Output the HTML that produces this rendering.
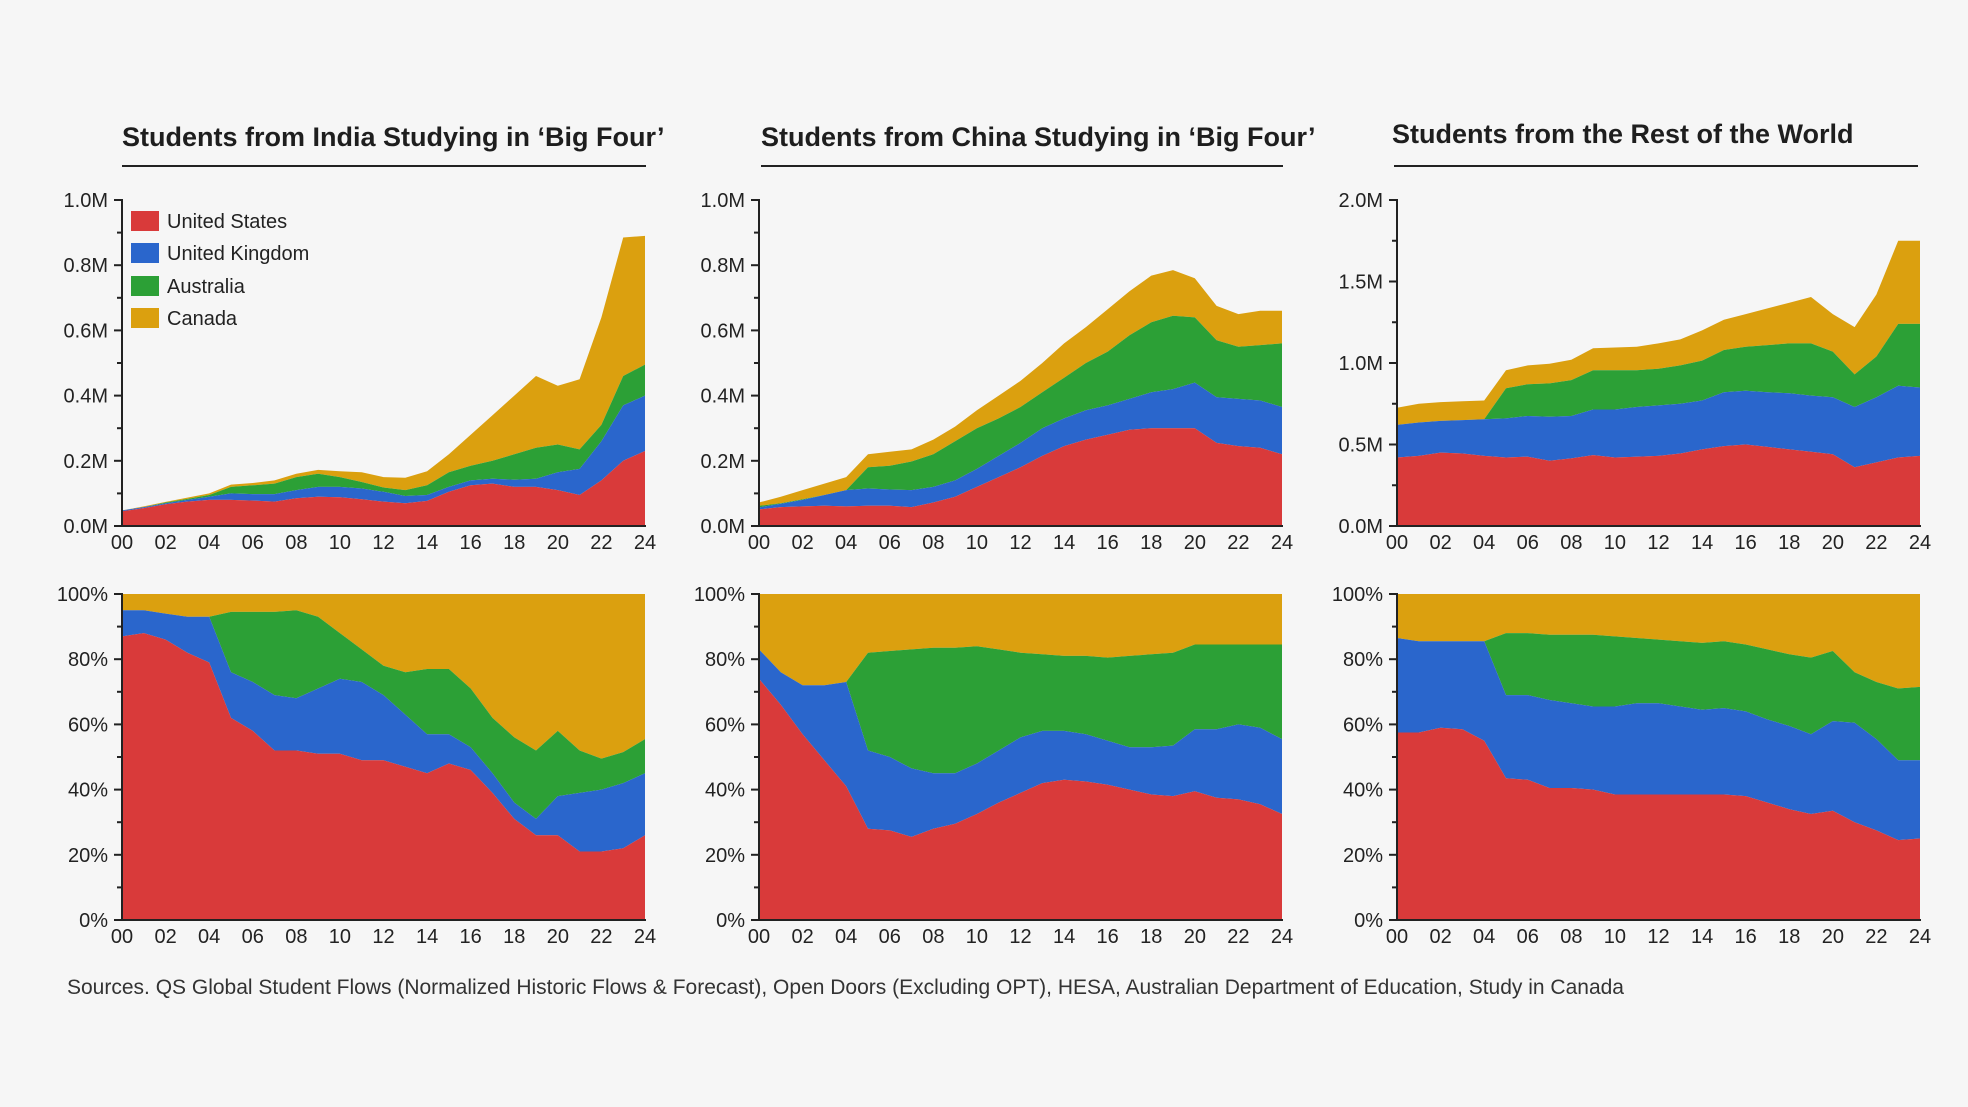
<!DOCTYPE html>
<html><head><meta charset="utf-8">
<style>
html,body{margin:0;padding:0;background:#f6f6f6;}
svg{display:block;font-family:"Liberation Sans",sans-serif;}
</style></head>
<body>
<svg id="chart" width="1968" height="1107" viewBox="0 0 1968 1107" xmlns="http://www.w3.org/2000/svg">
<rect width="1968" height="1107" fill="#f6f6f6"/>
<text x="122" y="146" font-size="27" font-weight="bold" fill="#1e1e1e">Students from India Studying in ‘Big Four’</text>
<line x1="122" y1="166" x2="646" y2="166" stroke="#222" stroke-width="2"/>
<text x="761" y="146" font-size="27" font-weight="bold" fill="#1e1e1e">Students from China Studying in ‘Big Four’</text>
<line x1="761" y1="166" x2="1283" y2="166" stroke="#222" stroke-width="2"/>
<text x="1392" y="143" font-size="27" font-weight="bold" fill="#1e1e1e">Students from the Rest of the World</text>
<line x1="1394" y1="166" x2="1918" y2="166" stroke="#222" stroke-width="2"/>
<text x="67" y="994" font-size="21" fill="#333">Sources. QS Global Student Flows (Normalized Historic Flows &amp; Forecast), Open Doors (Excluding OPT), HESA, Australian Department of Education, Study in Canada</text>
<g id="legend">
<rect x="131" y="211" width="28" height="20" fill="#d93a3a"/>
<text x="167" y="228" font-size="20" fill="#222">United States</text>
<rect x="131" y="243" width="28" height="20" fill="#2a66cc"/>
<text x="167" y="260" font-size="20" fill="#222">United Kingdom</text>
<rect x="131" y="276" width="28" height="20" fill="#2ca036"/>
<text x="167" y="293" font-size="20" fill="#222">Australia</text>
<rect x="131" y="308" width="28" height="20" fill="#dba00f"/>
<text x="167" y="325" font-size="20" fill="#222">Canada</text>
</g>
</svg>
<script>
// Years 2000..2024; values are stacked tops (US, US+UK, US+UK+AU, total)
const years = ["00","01","02","03","04","05","06","07","08","09","10","11","12","13","14","15","16","17","18","19","20","21","22","23","24"];
const xTickLabels = ["00","02","04","06","08","10","12","14","16","18","20","22","24"];
const colors = ["#d93a3a","#2a66cc","#2ca036","#dba00f"];
const countries = ["us","uk","australia","canada"];

// India absolute (millions)
const indiaUS   = [0.045,0.055,0.067,0.075,0.08,0.08,0.078,0.075,0.085,0.09,0.088,0.082,0.075,0.07,0.077,0.105,0.125,0.13,0.12,0.12,0.11,0.095,0.14,0.2,0.23];
const indiaUK   = [0.048,0.058,0.07,0.08,0.09,0.1,0.098,0.098,0.11,0.12,0.12,0.115,0.105,0.092,0.095,0.12,0.14,0.145,0.142,0.145,0.165,0.175,0.26,0.37,0.4];
const indiaAU   = [0.048,0.058,0.072,0.083,0.095,0.12,0.125,0.13,0.15,0.16,0.15,0.135,0.118,0.11,0.125,0.165,0.185,0.2,0.22,0.24,0.25,0.235,0.31,0.46,0.495];
const indiaCA   = [0.048,0.06,0.074,0.087,0.1,0.127,0.132,0.14,0.16,0.172,0.168,0.165,0.15,0.148,0.168,0.22,0.28,0.34,0.4,0.46,0.43,0.45,0.64,0.885,0.89];
// India shares (%)
const indiaShareUS = [87,88,86,82,79,62,58,52,52,51,51,49,49,47,45,48,46,39,31,26,26,21,21,22,26];
const indiaShareUK = [95,95,94,93,93,76,73,69,68,71,74,73,69,63,57,57,53,45,36,31,38,39,40,42,45];
const indiaShareAU = [95,95,94,93,93,94.5,94.5,94.5,95,93,88,83,78,76,77,77,71,62,56,52,58,52,49.5,51.5,55.5];

// China absolute
const chinaUS = [0.051,0.058,0.06,0.062,0.06,0.062,0.062,0.058,0.072,0.09,0.12,0.15,0.18,0.215,0.245,0.265,0.28,0.295,0.3,0.3,0.3,0.255,0.245,0.24,0.22];
const chinaUK = [0.057,0.068,0.08,0.095,0.11,0.115,0.112,0.11,0.12,0.14,0.175,0.215,0.255,0.3,0.33,0.355,0.37,0.39,0.41,0.42,0.44,0.395,0.39,0.385,0.365];
const chinaAU = [0.062,0.07,0.082,0.095,0.11,0.18,0.185,0.198,0.22,0.26,0.3,0.33,0.365,0.41,0.455,0.5,0.535,0.585,0.625,0.645,0.64,0.57,0.55,0.555,0.56];
const chinaCA = [0.072,0.09,0.11,0.13,0.15,0.22,0.228,0.235,0.265,0.305,0.355,0.4,0.445,0.5,0.56,0.61,0.665,0.72,0.768,0.785,0.76,0.675,0.65,0.66,0.66];
const chinaShareUS = [74,66,57,49,41,28,27.5,25.5,28,29.5,32.5,36,39,42,43,42.5,41.5,40,38.5,38,39.5,37.5,37,35.5,32.5];
const chinaShareUK = [83,76,72,72,73,52,50,46.5,45,45,48,52,56,58,58,57,55,53,53,53.5,58.5,58.5,60,59,55.5];
const chinaShareAU = [83,76,72,72,73,82,82.5,83,83.5,83.5,84,83,82,81.5,81,81,80.5,81,81.5,82,84.5,84.5,84.5,84.5,84.5];

// Rest of world absolute
const restUS = [0.42,0.43,0.45,0.445,0.43,0.42,0.425,0.4,0.415,0.435,0.42,0.425,0.43,0.445,0.47,0.49,0.5,0.485,0.47,0.455,0.44,0.36,0.39,0.42,0.43];
const restUK = [0.62,0.635,0.645,0.65,0.655,0.66,0.675,0.67,0.675,0.715,0.715,0.73,0.74,0.75,0.77,0.82,0.83,0.82,0.815,0.8,0.79,0.73,0.79,0.86,0.85];
const restAU = [0.62,0.635,0.645,0.65,0.655,0.845,0.87,0.875,0.895,0.955,0.955,0.955,0.965,0.985,1.015,1.08,1.1,1.11,1.12,1.12,1.07,0.93,1.04,1.24,1.24];
const restCA = [0.725,0.75,0.76,0.765,0.77,0.955,0.985,0.995,1.02,1.09,1.095,1.1,1.12,1.145,1.2,1.265,1.3,1.335,1.37,1.405,1.3,1.22,1.42,1.75,1.75];
const restShareUS = [57.5,57.5,59,58.5,55,43.5,43,40.5,40.5,40,38.5,38.5,38.5,38.5,38.5,38.5,38,36,34,32.5,33.5,30,27.5,24.5,25];
const restShareUK = [86.5,85.5,85.5,85.5,85.5,69,69,67.5,66.5,65.5,65.5,66.5,66.5,65.5,64.5,65,64,61.5,59.5,57,61,60.5,55.5,49,49];
const restShareAU = [86.5,85.5,85.5,85.5,85.5,88,88,87.5,87.5,87.5,87,86.5,86,85.5,85,85.5,84.5,83,81.5,80.5,82.5,76,73,71,71.5];

const tickLabelsM1 = ["0.0M","0.2M","0.4M","0.6M","0.8M","1.0M"];
const tickValsM1 = [0,0.2,0.4,0.6,0.8,1.0];
const tickLabelsM2 = ["0.0M","0.5M","1.0M","1.5M","2.0M"];
const tickValsM2 = [0,0.5,1.0,1.5,2.0];
const tickLabelsPct = ["0%","20%","40%","60%","80%","100%"];
const tickValsPct = [0,20,40,60,80,100];

const NS = "http://www.w3.org/2000/svg";
const svg = document.getElementById("chart");
function mk(tag, attrs, parent){
  const e = document.createElementNS(NS, tag);
  for (const k in attrs) e.setAttribute(k, attrs[k]);
  (parent||svg).appendChild(e);
  return e;
}

function drawPanel(name, x0, x1, y0, y1, yMax, stacks, tickVals, tickLabels){
  const g = mk("g", {});
  
  
  const xs = i => x0 + (x1 - x0) * i / (years.length - 1);
  const ys = v => y1 - (y1 - y0) * v / yMax;
  const order = [3,2,1,0];
  order.forEach(s => {
    const top = stacks[s];
    const bot = s > 0 ? stacks[s-1] : null;
    let d = "";
    top.forEach((v,i) => { d += (i ? "L" : "M") + xs(i).toFixed(1) + "," + ys(v).toFixed(1); });
    for (let i = years.length - 1; i >= 0; i--) d += "L" + xs(i).toFixed(1) + "," + ys(bot ? bot[i] : 0).toFixed(1);
    d += "Z";
    const p = mk("path", {d: d, fill: colors[s]}, g);
    
    
  });
  const ax = mk("path", {d: "M" + x0 + "," + (y0 - 1) + "L" + x0 + "," + y1 + "L" + (x1 + 1) + "," + y1, stroke: "#222", "stroke-width": 2, fill: "none"}, g);
  
  
  const step = tickVals[1] - tickVals[0];
  for (let k = 0; k < tickVals.length; k++){
    const v = tickVals[k];
    const t = mk("line", {x1: x0 - 8, x2: x0, y1: ys(v), y2: ys(v), stroke: "#222", "stroke-width": 2}, g);
    
    
    if (k < tickVals.length - 1){
      const mv = v + step / 2;
      const m = mk("line", {x1: x0 - 5, x2: x0, y1: ys(mv), y2: ys(mv), stroke: "#222", "stroke-width": 2}, g);
      
      
    }
    const lb = mk("text", {x: x0 - 14, y: ys(v) + 7, "font-size": 20, "text-anchor": "end", fill: "#222"}, g);
    lb.textContent = tickLabels[k];
    
    
  }
  xTickLabels.forEach(lbl => {
    const i = years.indexOf(lbl);
    const t = mk("text", {x: xs(i), y: y1 + 23, "font-size": 20, "text-anchor": "middle", fill: "#222"}, g);
    t.textContent = lbl;
    
    
  });
}
const full = years.map(() => 100);
const legend = document.getElementById("legend");

drawPanel("india-absolute", 122, 645, 200, 526, 1.0, [indiaUS, indiaUK, indiaAU, indiaCA], tickValsM1, tickLabelsM1);
drawPanel("india-share", 122, 645, 594, 920, 100, [indiaShareUS, indiaShareUK, indiaShareAU, full], tickValsPct, tickLabelsPct);
drawPanel("china-absolute", 759, 1282, 200, 526, 1.0, [chinaUS, chinaUK, chinaAU, chinaCA], tickValsM1, tickLabelsM1);
drawPanel("china-share", 759, 1282, 594, 920, 100, [chinaShareUS, chinaShareUK, chinaShareAU, full], tickValsPct, tickLabelsPct);
drawPanel("rest-absolute", 1397, 1920, 200, 526, 2.0, [restUS, restUK, restAU, restCA], tickValsM2, tickLabelsM2);
drawPanel("rest-share", 1397, 1920, 594, 920, 100, [restShareUS, restShareUK, restShareAU, full], tickValsPct, tickLabelsPct);
svg.appendChild(legend);
</script>
</body></html>
